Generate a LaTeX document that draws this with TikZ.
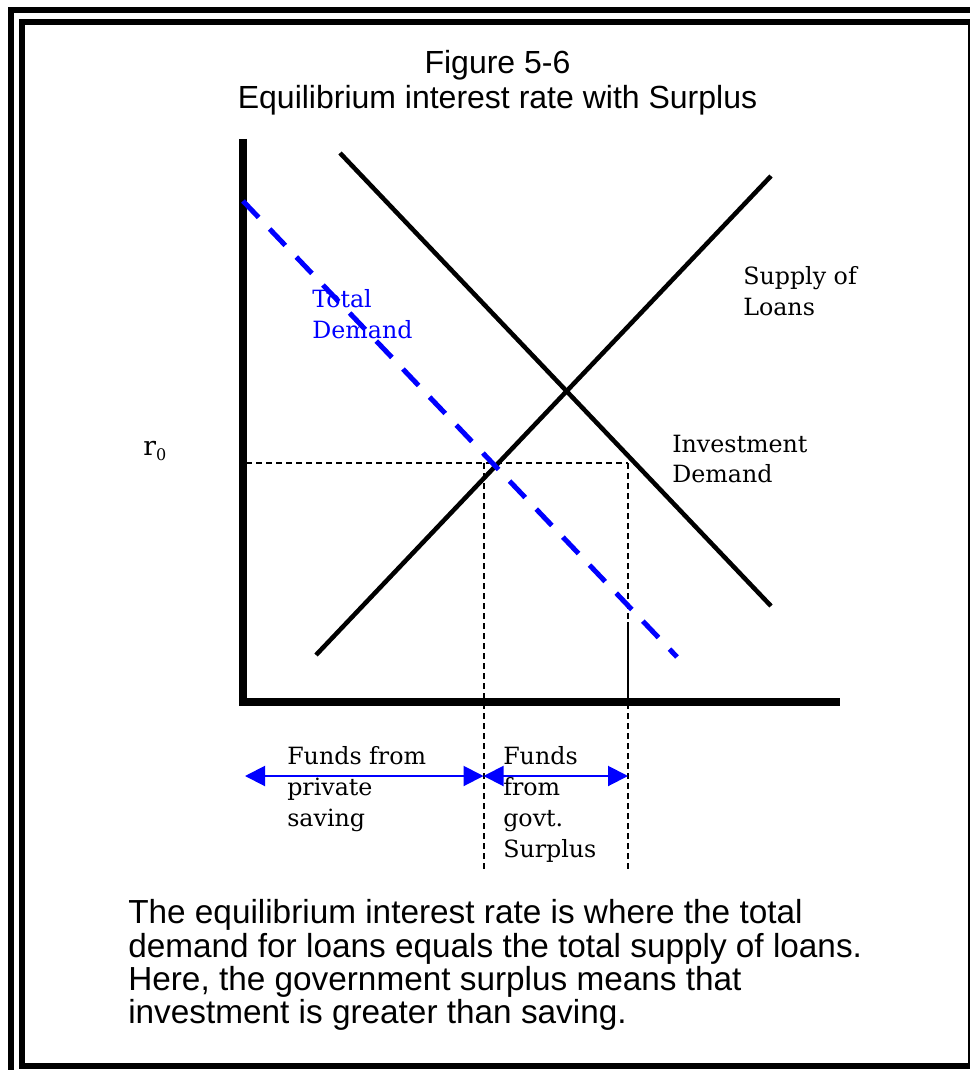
\documentclass[tikz,border=0pt]{standalone}
\usepackage{fontspec}
\setmainfont{Liberation Sans}
\newfontfamily\lblfont{DejaVu Serif}
\usetikzlibrary{arrows.meta}
\begin{document}
\begin{tikzpicture}[x=0.75pt,y=-0.75pt,
  frame/.style={line width=4.5pt},
  axis/.style={line width=5.5pt,line join=miter},
  curve/.style={line width=3.4pt},
  totaldem/.style={blue,line width=3.75pt,dash pattern=on 17pt off 12pt},
  guide/.style={line width=1.1pt,dash pattern=on 4.5pt off 3pt},
  guidesolid/.style={line width=1.1pt},
  span/.style={blue,line width=1.5pt,arrows={Triangle[length=15pt,width=15pt]-Triangle[length=15pt,width=15pt]}},
  lbl/.style={font=\lblfont\fontsize{17.8}{23}\selectfont,anchor=base west,inner sep=0pt},
  titletext/.style={font=\fontsize{24}{26}\selectfont,anchor=base,inner sep=0pt},
  body/.style={font=\fontsize{25}{25}\selectfont,anchor=base west,inner sep=0pt}]
\useasboundingbox (0,0) rectangle (970,1070);
\clip (0,0) rectangle (970,1070);
% frames
\draw[frame] (11,10) rectangle (990,1090);
\draw[frame] (22,22) rectangle (971,1066);
% titles
\node[titletext] (t1) at (497.5,74) {Figure 5-6};
\node[titletext] (t2) at (497.5,109) {Equilibrium interest rate with Surplus};
% axes
\coordinate (axtop) at (243,139);
\coordinate (origin) at (243,702);
\coordinate (axright) at (840,702);
\draw[axis] (axtop) -- (origin) -- (axright);
% curves
\coordinate (d1) at (340,153);
\coordinate (d2) at (771,606);
\coordinate (s1) at (316,655);
\coordinate (s2) at (771,176);
\coordinate (td1) at (243,201);
\coordinate (td2) at (677,657);
\draw[curve] (d1) -- (d2);
\draw[curve] (s1) -- (s2);
% guides
\coordinate (g0) at (246,463);
\coordinate (g1) at (484,463);
\coordinate (g2) at (628,463);
\coordinate (g1b) at (484,869);
\coordinate (g2b) at (628,869);
\coordinate (g2m) at (628,622);
\coordinate (g2a) at (628,700);
\draw[guide] (g0) -- (g2);
\draw[guide] (g1) -- (g1b);
\draw[guide] (g2) -- (g2b);
\draw[guidesolid] (g2m) -- (g2a);
\draw[totaldem] (td1) -- (td2);
% spans
\coordinate (a0) at (245,776);
\coordinate (a1) at (483.5,776);
\coordinate (a2) at (628,776);
\draw[span] (a0) -- (a1);
\draw[span] (a1) -- (a2);
% labels
\node[lbl,font=\lblfont\fontsize{20}{23}\selectfont] (r0) at (143,455) {r\raisebox{-0.2em}{\fontsize{12}{12}\selectfont 0}};
\node[lbl,blue] (tot1) at (312,307) {Total};
\node[lbl,blue] (tot2) at (312,338) {Demand};
\node[lbl] (sup1) at (743,284) {Supply of};
\node[lbl] (sup2) at (743,315) {Loans};
\node[lbl] (inv1) at (672,452) {Investment};
\node[lbl] (inv2) at (672,482) {Demand};
\node[lbl] (fp1) at (287,764) {Funds from};
\node[lbl] (fp2) at (287,795) {private};
\node[lbl] (fp3) at (287,826) {saving};
\node[lbl] (fg1) at (503,764) {Funds};
\node[lbl] (fg2) at (503,795) {from};
\node[lbl] (fg3) at (503,826) {govt.};
\node[lbl] (fg4) at (503,857) {Surplus};
% body
\node[body] (b1) at (128,923) {The equilibrium interest rate is where the total};
\node[body] (b2) at (128,957) {demand for loans equals the total supply of loans.};
\node[body] (b3) at (128,990) {Here, the government surplus means that};
\node[body] (b4) at (128,1023) {investment is greater than saving.};
\end{tikzpicture}
\end{document}
